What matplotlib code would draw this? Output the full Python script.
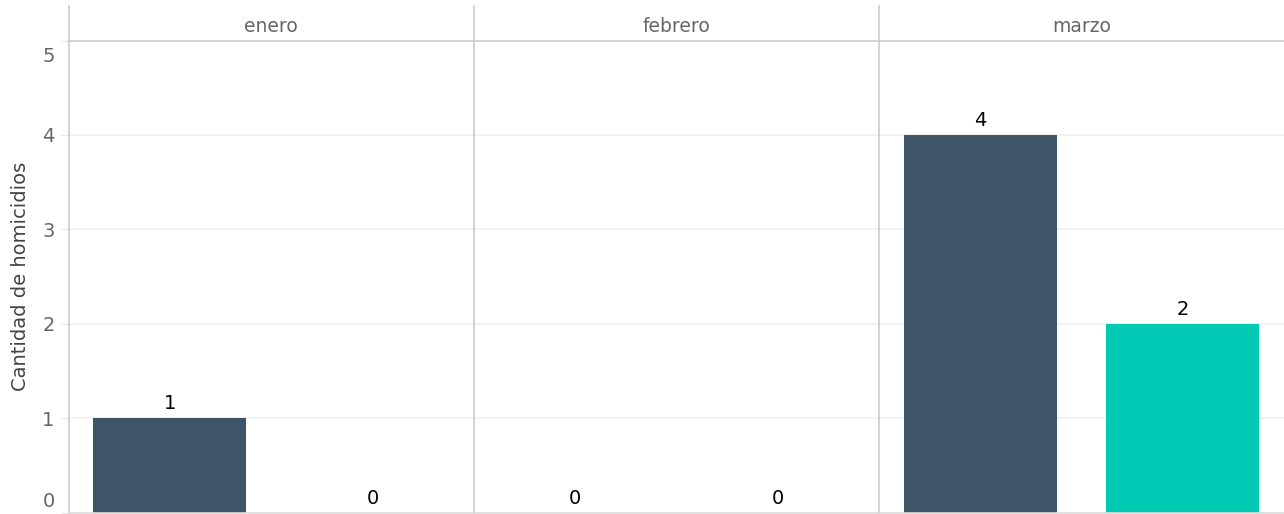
import matplotlib.pyplot as plt
from matplotlib.transforms import ScaledTranslation

meses = ["enero", "febrero", "marzo"]
grupos = ["a", "b"]
valores_a = [1, 0, 4]
valores_b = [0, 0, 2]
colores = ["#3E5569", "#00C9B4"]
y_ticks = [0, 1, 2, 3, 4, 5]

fig = plt.figure(figsize=(12.84, 5.14), dpi=100)
left = 68.5 / 1284
pw = 405.2 / 1284
bottom = 1.5 / 514
height = 472 / 514

for i, mes in enumerate(meses):
    ax = fig.add_axes([left + i * pw, bottom, pw, height])
    vals = [valores_a[i], valores_b[i]]
    x = list(range(len(grupos)))
    ax.bar(x, vals, width=0.755, color=colores, zorder=2)
    for xi, v in zip(x, vals):
        ax.annotate(str(v), (xi, v), xytext=(0, 6.3), textcoords="offset points",
                    ha="center", va="baseline", fontsize=14, color="black")
    ax.set_xlim(-0.5, 1.5)
    ax.set_ylim(0, 5)
    ax.set_xticks([])
    ax.set_yticks(y_ticks)
    ax.grid(axis="y", color="#EFEFEF", linewidth=1.2, zorder=0)
    ax.spines["right"].set_visible(False)
    ax.spines["left"].set_color("#CCCCCC")
    ax.spines["top"].set_color("#CCCCCC")
    ax.spines["bottom"].set_color("#DDDDDD")
    for s in ["left", "top", "bottom"]:
        ax.spines[s].set_linewidth(1.2)
    # separador que sube hasta arriba de la tira
    ax.plot([0, 0], [1, 1 + 35 / 472], transform=ax.transAxes, color="#CCCCCC",
            linewidth=1.2, clip_on=False)
    ax.text(0.5, 1 + 8 / 472, mes, transform=ax.transAxes, ha="center",
            va="baseline", fontsize=13.5, color="#666666")
    if i == 0:
        ax.tick_params(axis="y", length=6, color="#E5E5E5", labelcolor="#666666",
                       labelsize=14, pad=4)
        ax.set_ylabel("Cantidad de homicidios", fontsize=14, color="#444444",
                      labelpad=9)
        # etiquetas de los extremos empujadas hacia adentro
        ticks = ax.yaxis.get_major_ticks()
        up = ScaledTranslation(0, 13 / 100, fig.dpi_scale_trans)
        down = ScaledTranslation(0, -14 / 100, fig.dpi_scale_trans)
        ticks[0].label1.set_transform(ticks[0].label1.get_transform() + up)
        ticks[-1].label1.set_transform(ticks[-1].label1.get_transform() + down)
    else:
        ax.tick_params(axis="y", left=False, labelleft=False)

plt.savefig("out.png", dpi=100)
